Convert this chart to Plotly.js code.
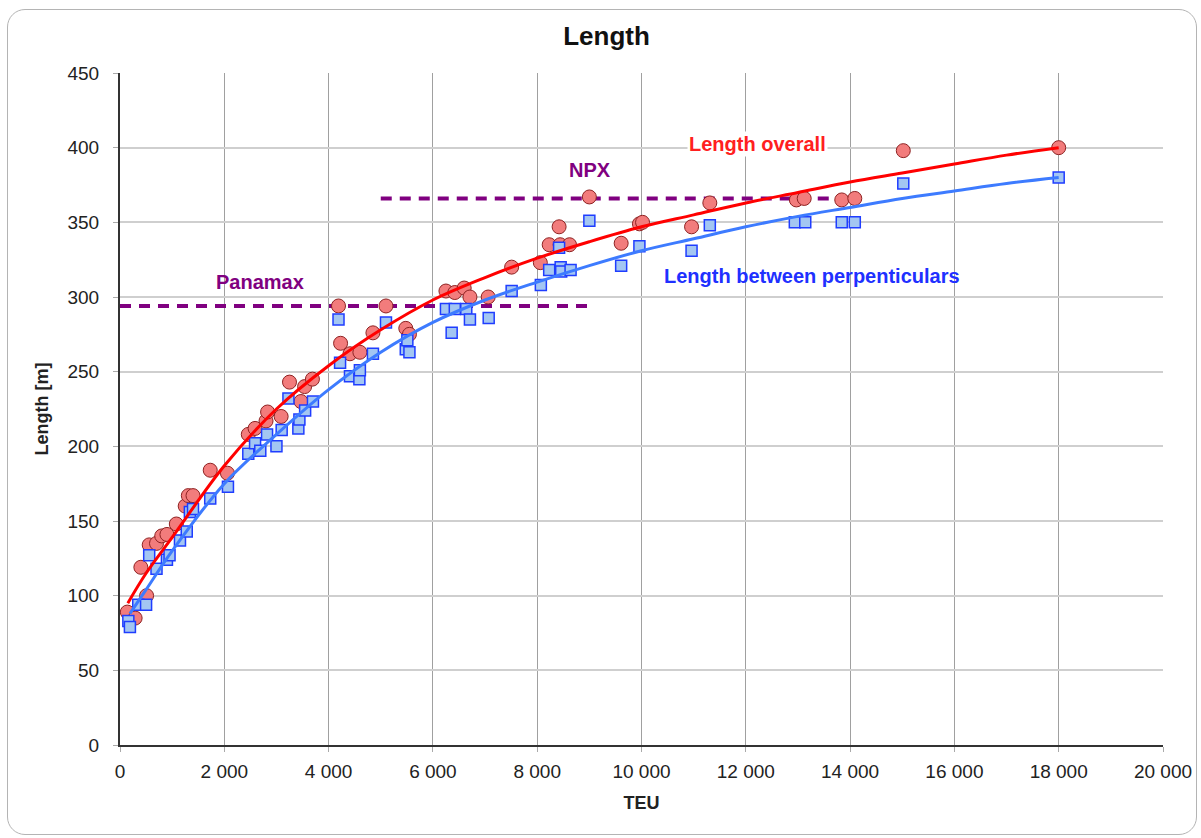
<!DOCTYPE html>
<html>
<head>
<meta charset="utf-8">
<script src="https://cdn.plot.ly/plotly-3.0.1.min.js"></script>
<style>
  html, body { margin: 0; padding: 0; background: #fff; }
  #wrap { position: relative; width: 1201px; height: 838px; }
  #frame { position: absolute; left: 7px; top: 9px; width: 1188px; height: 824px;
           border: 1.5px solid #b4b4b4; border-radius: 18px; pointer-events: none; z-index: 5; }
  #chart { position: absolute; left: 0; top: 0; width: 1201px; height: 838px; }
</style>
</head>
<body>
<div id="wrap">
  <div id="chart"></div>
  <div id="frame"></div>
</div>
<script>
// Length overall (LOA) data points [TEU]
const loaTEU = [140, 290, 400, 510, 560, 700, 800, 900, 1080, 1250, 1310, 1400, 1730, 2060, 2460, 2590, 2800, 2830, 3090, 3250, 3470, 3540, 3690, 4190, 4230, 4410, 4600, 4850, 5100, 5480, 5550, 6250, 6420, 6600, 6710, 7060, 7510, 8060, 8230, 8420, 8440, 8620, 9000, 9610, 9960, 10020, 10960, 11310, 12970, 13120, 13840, 14090, 15020, 18000];
const loaLen = [89, 85, 119, 100, 134, 135, 140, 141, 148, 160, 167, 167, 184, 182, 208, 212, 217, 223, 220, 243, 230, 240, 245, 294, 269, 262, 263, 276, 294, 279, 275, 304, 303, 306, 300, 300, 320, 323, 335, 347, 335, 335, 367, 336, 349, 350, 347, 363, 365, 366, 365, 366, 398, 400];

// Length between perpendiculars (LBP) data points
const lbpTEU = [160, 190, 350, 500, 560, 700, 900, 950, 1150, 1280, 1340, 1400, 1730, 2070, 2460, 2590, 2690, 2820, 3000, 3100, 3230, 3420, 3440, 3550, 3700, 4190, 4220, 4410, 4590, 4600, 4850, 5100, 5480, 5510, 5550, 6250, 6360, 6420, 6640, 6710, 7070, 7510, 8070, 8230, 8420, 8450, 8460, 8640, 9000, 9610, 9960, 10960, 11310, 12940, 13140, 13840, 14090, 15020, 18000];
const lbpLen = [83, 79, 94, 94, 127, 118, 124, 127, 137, 143, 156, 158, 165, 173, 195, 202, 197, 208, 200, 211, 232, 212, 218, 224, 230, 285, 256, 247, 245, 251, 262, 283, 265, 271, 263, 292, 276, 292, 292, 285, 286, 304, 308, 318, 333, 320, 317, 318, 351, 321, 334, 331, 348, 350, 350, 350, 350, 376, 380];

// Trend curves
const loaFitTEU = [150, 500, 1000, 2000, 3000, 4000, 5000, 6000, 7000, 8000, 9000, 10000, 11000, 12000, 13000, 14000, 15000, 16000, 17000, 18000];
const loaFitLen = [95, 115, 139, 187, 225, 254, 278, 298, 313, 326, 337, 347, 355, 363, 370, 377, 383, 389, 395, 400];
const lbpFitTEU = [190, 500, 1000, 2000, 3000, 4000, 5000, 6000, 7000, 8000, 9000, 10000, 11000, 12000, 13000, 14000, 15000, 16000, 17000, 18000];
const lbpFitLen = [88, 104, 130, 175, 208, 238, 263, 283, 298, 310, 321, 331, 339, 347, 354, 360, 366, 371, 376, 380];

// Reference limits
const panamaxTEU = [0, 9000];
const panamaxLen = [294, 294];
const npxTEU = [5000, 13700];
const npxLen = [366, 366];

const labels = {
  title: "Length", xTitle: "TEU", yTitle: "Length [m]",
  panamax: "Panamax", npx: "NPX",
  loa: "Length overall", lbp: "Length between perpenticulars"
};

const purple = '#800080';
const traces = [
  { x: panamaxTEU, y: panamaxLen, mode: 'lines', line: { color: purple, width: 4, dash: '11px,8px' }, hoverinfo: 'skip' },
  { x: npxTEU, y: npxLen, mode: 'lines', line: { color: purple, width: 4, dash: '11px,8px' }, hoverinfo: 'skip' },
  { x: loaTEU, y: loaLen, mode: 'markers', name: labels.loa,
    marker: { symbol: 'circle', size: 14, color: '#F27C7C', line: { color: '#8E2222', width: 1 } } },
  { x: lbpTEU, y: lbpLen, mode: 'markers', name: labels.lbp,
    marker: { symbol: 'square', size: 11, color: '#A3C6F2', line: { color: '#1F3DFF', width: 1.5 } } },
  { x: loaFitTEU, y: loaFitLen, mode: 'lines', line: { color: '#FF0000', width: 3, shape: 'spline', smoothing: 1 } },
  { x: lbpFitTEU, y: lbpFitLen, mode: 'lines', line: { color: '#3D7BFF', width: 3, shape: 'spline', smoothing: 1 } }
];

const tickFont = { family: 'Liberation Sans, Arial, sans-serif', size: 19, color: '#222' };
const boldFont = (size, color) => ({ family: 'Liberation Sans, Arial, sans-serif', size: size, color: color, weight: 'bold' });

const layout = {
  width: 1201, height: 838,
  margin: { l: 120, r: 38, t: 73, b: 93 },
  paper_bgcolor: 'rgba(0,0,0,0)', plot_bgcolor: '#fff',
  showlegend: false,
  separators: '. ',
  title: { text: '<b>' + labels.title + '</b>', font: boldFont(26, '#111'), x: 0.505, xref: 'container', y: 0.957, yref: 'container', yanchor: 'middle' },
  xaxis: {
    range: [0, 20000], dtick: 2000, tick0: 0, tickformat: ',d',
    showgrid: true, gridcolor: '#a0a0a0', gridwidth: 1,
    showline: true, linecolor: '#333', linewidth: 2, zeroline: false,
    ticks: 'outside', ticklen: 5, tickcolor: '#aaa', ticklabelstandoff: 3,
    tickfont: tickFont,
    title: { text: '<b>' + labels.xTitle + '</b>', font: boldFont(18, '#222'), standoff: 16 }
  },
  yaxis: {
    range: [0, 450], dtick: 50, tick0: 0,
    showgrid: true, gridcolor: '#cfcfcf', gridwidth: 2,
    showline: true, linecolor: '#333', linewidth: 2, zeroline: false,
    ticks: 'outside', ticklen: 5, tickcolor: '#aaa', ticklabelstandoff: 10,
    tickfont: tickFont,
    title: { text: '<b>' + labels.yTitle + '</b>', font: boldFont(18, '#222'), standoff: 14 }
  },
  annotations: [
    { x: 2685, y: 310, text: '<b>' + labels.panamax + '</b>', showarrow: false, font: boldFont(20, purple) },
    { x: 9012, y: 385, text: '<b>' + labels.npx + '</b>', showarrow: false, font: boldFont(20, purple) },
    { x: 12215, y: 402.5, text: '<b>' + labels.loa + '</b>', showarrow: false, font: boldFont(20, '#FF2020'), bgcolor: '#fff' },
    { x: 13270, y: 314, text: '<b>' + labels.lbp + '</b>', showarrow: false, font: boldFont(20, '#2030FF') }
  ]
};

Plotly.newPlot('chart', traces, layout, { displayModeBar: false, staticPlot: true });
</script>
</body>
</html>
